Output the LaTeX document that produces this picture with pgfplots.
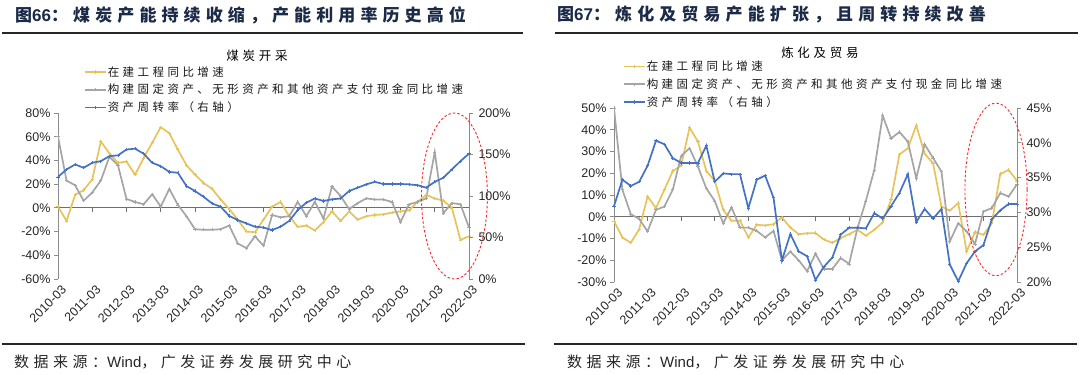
\documentclass[border=0pt]{standalone}
\usepackage{pgfplots}
\pgfplotsset{compat=1.18}
\usepackage{pgfplotstable}
\usepackage{fontspec}
\setmainfont{Liberation Sans}
\newfontfamily\cjk{Noto Sans CJK SC}[LetterSpace=30]
\definecolor{cyel}{HTML}{E8C35A}
\definecolor{cgry}{HTML}{A5A5A5}
\definecolor{cblu}{HTML}{4472C4}
\definecolor{cnavy}{HTML}{1B2A47}
\definecolor{caxis}{HTML}{8C8C8C}
\definecolor{czero}{HTML}{6E6E6E}

\pgfplotstableread{
i y g b
0 1 60 123
1 -11 23 132
2 11 19 138
3 15 6 134
4 24 13 140
5 56 23 142
6 46 43 148
7 38 36 149
8 39 7.5 156
9 28 5 157
10 42 3 151
11 55 11.5 140
12 68 1 136
13 63 16 129
14 49 2.5 128
15 36 -7 112
16 28 -18 106
17 21 -18.5 99
18 16 -18.5 91
19 7 -18 87
20 -1 -15 76
21 -10 -30 71
22 -20 -34 67
23 -20.5 -24 63
24 -10 -32 62
25 1 -6 59
26 5 -8 63
27 -7 -7 70
28 -16 5 83
29 -15 -7 92
30 -19 5 97
31 -12 -9 94
32 -3 18 96
33 -11 10 97
34 -3 -1 106
35 -10 4 110
36 -7 8 114
37 -6 7 117
38 -5.5 7 114.5
39 -4 5 114.5
40 -3 -12 114.5
41 -2 3 114
42 5 5 113
43 11 8 110
44 8 47 117
45 6 -4.5 122
46 0 4 132
47 -27 3 142
48 -24 -16.5 151
}\dataL

\pgfplotstableread{
i y g b
0 -2 50 30.9
1 -9.5 12.4 34.7
2 -12 1.2 33.8
3 -5.7 -1 34.4
4 9.3 -6.7 36.7
5 4 3.2 40.3
6 12.4 4.7 39.8
7 21 12.4 37.8
8 23.5 28 37.1
9 41 31.5 37.1
10 34.5 23 37.1
11 21 13 39.6
12 16.5 7.3 34.4
13 3.2 -3 35.6
14 -1.8 4.3 35.5
15 -1.8 -5 35.5
16 -9.5 -5 30.6
17 -3.7 -6.5 34.7
18 -4 -9.5 35.3
19 -3.4 -6.5 32.1
20 -0.3 -20 23.1
21 -5 -16 26.9
22 -8 -20 24.4
23 -7.6 -25 23.7
24 -7.5 -17 20.3
25 -10.5 -24 22.2
26 -12 -24 23.5
27 -9.8 -19 26.8
28 -8 -21.7 27.8
29 -6 -5.2 27.8
30 -8.7 7.3 27.7
31 -6 21.5 29.9
32 -2.6 46.5 29.1
33 7.8 36 30.9
34 28.7 39 32.8
35 31.5 34.5 35.5
36 42 17.7 28.6
37 29 33.3 30.5
38 24.6 27 29.1
39 4.7 20.8 30.5
40 2.8 -11.3 22.5
41 6.3 -3 20.1
42 -16 -6.7 22.7
43 -7 -12.5 24.4
44 -8.3 2.4 25.3
45 -3 4 29
46 19.7 10.9 30.3
47 21.5 9.3 31.2
48 16.5 15 31.2
}\dataR

\pgfplotsset{
  ser/.style={line width=1.7bp, mark=+, mark size=1.6bp, mark options={solid, line width=0.7bp}},
  syel/.style={ser, color=cyel},
  sgry/.style={ser, color=cgry},
  sblu/.style={ser, color=cblu},
  base/.style={
    scale only axis, anchor=south west, xmin=0, xmax=48,
    tick align=outside, major tick length=4bp,
    tick label style={font=\fontsize{12.5bp}{14bp}\selectfont, text=black!85},
    y axis line style={color=caxis, line width=0.8bp},
    ytick style={color=caxis, line width=0.8bp},
  },
  mainax/.style={
    base,
    axis x line*=middle, axis y line*=left,
    hide obscured x ticks=false,
    x axis line style={color=czero, line width=0.8bp},
    xtick style={color=czero, line width=0.8bp},
    xtick={0,4,...,48},
    xticklabels={2010-03,2011-03,2012-03,2013-03,2014-03,2015-03,2016-03,2017-03,2018-03,2019-03,2020-03,2021-03,2022-03},
    legend cell align=left,
    legend image code/.code={\draw[mark repeat=2,mark phase=2,##1] plot coordinates {(0bp,0bp) (10.5bp,0bp) (21bp,0bp)};},
    legend style={draw=none, fill=none, inner sep=0pt, row sep=4.5bp,
      font=\fontsize{11.5bp}{13bp}\selectfont\cjk, text=black!90,
      nodes={inner sep=1bp}},
  },
  secax/.style={
    base, axis x line=none, axis y line*=right, clip=false,
    yticklabel style={xshift=2bp},
  },
}

\begin{document}
\begin{tikzpicture}
\path[use as bounding box] (0bp,0bp) rectangle (1080bp,375bp);

% headers
\node[anchor=west, text=cnavy, inner sep=0pt] at (15bp,360bp)
  {\fontsize{17bp}{20bp}\selectfont\cjk\bfseries 图{\normalfont\bfseries 66}：煤炭产能持续收缩，产能利用率历史高位};
\node[anchor=west, text=cnavy, inner sep=0pt] at (557bp,360bp)
  {\fontsize{17bp}{20bp}\selectfont\cjk\bfseries 图{\normalfont\bfseries 67}：炼化及贸易产能扩张，且周转持续改善};
\draw[line width=1.6bp, black!85] (2bp,342bp) -- (523bp,342bp);
\draw[line width=1.6bp, black!85] (555bp,342bp) -- (1078bp,342bp);

% footers
\draw[line width=1.2bp, black!85] (2bp,31bp) -- (525bp,31bp);
\draw[line width=1.2bp, black!85] (554bp,31bp) -- (1077bp,31bp);
\node[anchor=west, inner sep=0pt, text=black!85] at (14bp,13bp)
  {\fontsize{15bp}{17bp}\selectfont\cjk 数据来源：{\normalfont Wind}，广发证券发展研究中心};
\node[anchor=west, inner sep=0pt, text=black!85] at (567bp,13bp)
  {\fontsize{15bp}{17bp}\selectfont\cjk 数据来源：{\normalfont Wind}，广发证券发展研究中心};

% subtitles
\node[inner sep=0pt] at (257bp,319bp) {\fontsize{12.5bp}{14bp}\selectfont\cjk 煤炭开采};
\node[inner sep=0pt] at (820bp,322bp) {\fontsize{12.5bp}{14bp}\selectfont\cjk 炼化及贸易};

% ---------- left panel ----------
\begin{axis}[mainax, at={(58bp,96bp)}, width=411bp, height=166bp,
  ymin=-60, ymax=80, ytick={-60,-40,...,80},
  yticklabels={-60\%,-40\%,-20\%,0\%,20\%,40\%,60\%,80\%},
  xticklabel style={yshift=-71bp, xshift=3bp, rotate=45, anchor=north east, inner sep=1bp},
  legend style={at={(axis description cs:0.063,1.288)}, anchor=north west}]
\addplot[syel] table[x=i,y=y]{\dataL};
\addlegendentry{在建工程同比增速}
\addplot[sgry] table[x=i,y=g]{\dataL};
\addlegendentry{构建固定资产、无形资产和其他资产支付现金同比增速}
\addlegendimage{color=cblu, line width=1.7bp, mark=+, mark size=1.6bp, mark options={solid, line width=0.7bp}}
\addlegendentry{资产周转率（右轴）}
\end{axis}
\begin{axis}[secax, at={(58bp,96bp)}, width=411bp, height=166bp,
  ymin=0, ymax=200, ytick={0,50,...,200},
  yticklabels={0\%,50\%,100\%,150\%,200\%}]
\addplot[sblu] table[x=i,y=b]{\dataL};
\draw[red!85, dash pattern=on 2.5bp off 2bp, line width=0.9bp] (axis cs:46.3,100) ellipse [x radius=3.85, y radius=100];
\end{axis}

% ---------- right panel ----------
\begin{axis}[mainax, at={(614bp,93bp)}, width=403bp, height=174bp,
  ymin=-30, ymax=50, ytick={-30,-20,...,50},
  yticklabels={-30\%,-20\%,-10\%,0\%,10\%,20\%,30\%,40\%,50\%},
  xticklabel style={yshift=-65bp, xshift=3bp, rotate=45, anchor=north east, inner sep=1bp},
  legend style={at={(axis description cs:0.022,1.278)}, anchor=north west}]
\addplot[syel] table[x=i,y=y]{\dataR};
\addlegendentry{在建工程同比增速}
\addplot[sgry] table[x=i,y=g]{\dataR};
\addlegendentry{构建固定资产、无形资产和其他资产支付现金同比增速}
\addlegendimage{color=cblu, line width=1.7bp, mark=+, mark size=1.6bp, mark options={solid, line width=0.7bp}}
\addlegendentry{资产周转率（右轴）}
\end{axis}
\begin{axis}[secax, at={(614bp,93bp)}, width=403bp, height=174bp,
  ymin=20, ymax=45, ytick={20,25,...,45},
  yticklabels={20\%,25\%,30\%,35\%,40\%,45\%}]
\addplot[sblu] table[x=i,y=b]{\dataR};
\draw[red!85, dash pattern=on 2.5bp off 2bp, line width=0.9bp] (axis cs:45.5,33.3) ellipse [x radius=3.7, y radius=12.4];
\end{axis}
\end{tikzpicture}
\end{document}
